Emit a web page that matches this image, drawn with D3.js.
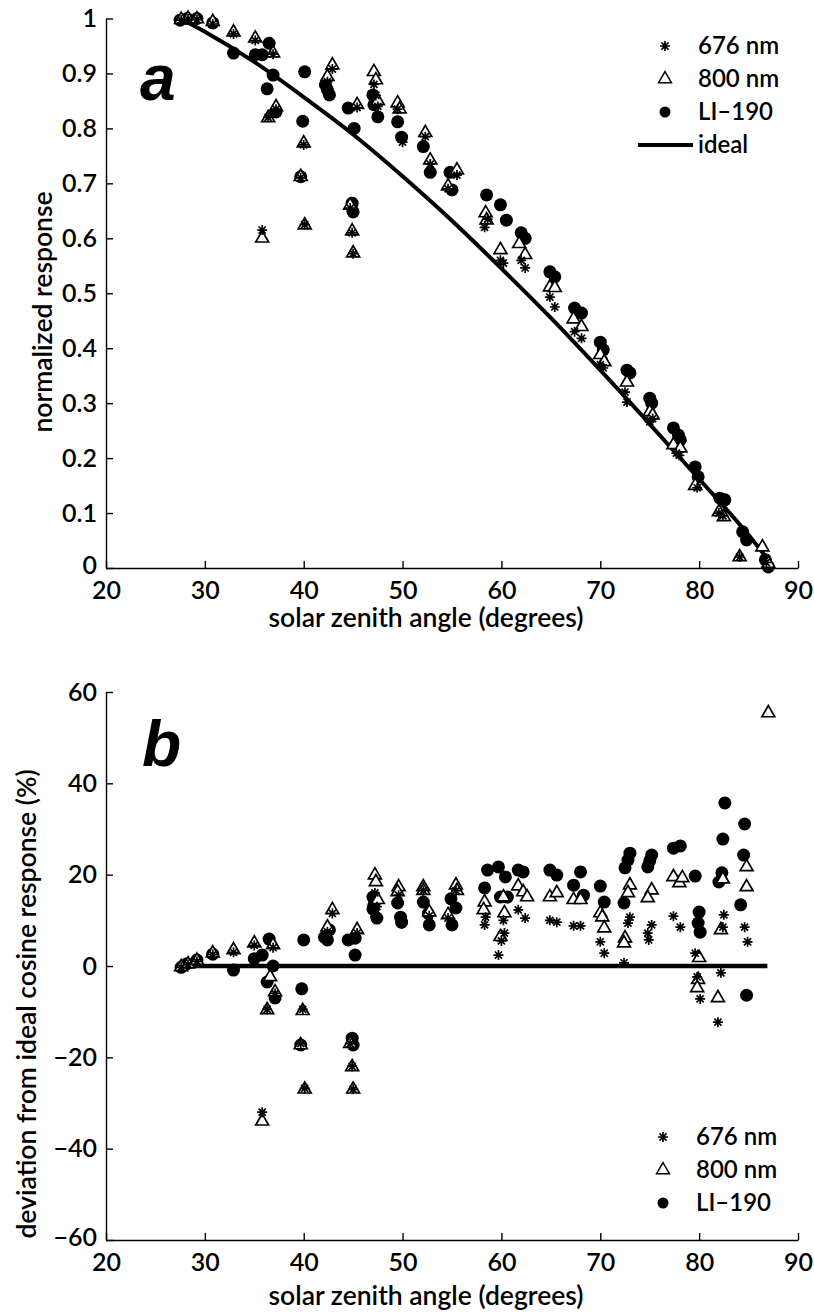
<!DOCTYPE html>
<html>
<head>
<meta charset="utf-8">
<script src="https://cdn.jsdelivr.net/npm/d3@7"></script>
<style>
  body { margin: 0; background: #fff; }
  text { font-family: Lato, "Open Sans", sans-serif; font-weight: 600; fill: #000; }
  text.panel { font-family: "Liberation Sans", Arial, sans-serif; font-weight: bold; font-style: italic; }
</style>
</head>
<body>
<svg id="chart" width="814" height="1312"></svg>
<script>
// ---- data ----
const xTicks = [20, 30, 40, 50, 60, 70, 80, 90];
const yTicksA = [0, 0.1, 0.2, 0.3, 0.4, 0.5, 0.6, 0.7, 0.8, 0.9, 1];
const yTicksB = [-60, -40, -20, 0, 20, 40, 60];
const seriesNames = ['676 nm', '800 nm', 'LI\u2013190'];

// ideal cosine response, panel a
const idealAngle = [27.5, 30, 35, 40, 45, 50, 55, 60, 65, 70, 75, 80, 85, 87.2];
const idealValue = [1.0, 0.976, 0.921, 0.857, 0.789, 0.713, 0.632, 0.545, 0.455, 0.36, 0.262, 0.162, 0.06, 0.01];

// zero reference, panel b
const zeroAngle = [27.5, 86.9];
const zeroDev = [0, 0];

// panel a: normalized response [angle, value]
const li190A = [[27.5,0.997],[28.2,1.0],[29.2,1.0],[30.8,0.992],[32.9,0.937],[35.1,0.934],[35.8,0.934],[36.5,0.955],
  [36.9,0.897],[36.3,0.872],[37.2,0.83],[39.9,0.813],[39.7,0.712],[40.1,0.903],[42.2,0.879],[42.6,0.861],[42.4,0.87],
  [44.5,0.837],[45.1,0.80],[44.9,0.664],[45.0,0.648],[47.0,0.861],[47.1,0.843],[47.5,0.821],[49.5,0.812],[49.9,0.784],
  [52.1,0.767],[52.8,0.72],[54.8,0.72],[55.0,0.688],[58.5,0.679],[59.9,0.661],[60.5,0.633],[62.0,0.61],[62.4,0.60],
  [64.9,0.539],[65.4,0.53],[67.4,0.473],[68.1,0.464],[70.0,0.411],[70.3,0.397],[72.7,0.36],[73.0,0.355],[75.0,0.309],
  [75.2,0.30],[77.4,0.255],[77.9,0.242],[78.1,0.233],[79.6,0.184],[79.9,0.166],[82.1,0.127],[82.6,0.124],[84.4,0.066],
  [84.8,0.051],[86.7,0.015],[87.0,0.002]];
const nm800A = [[27.6,0.998],[28.3,1.0],[29.2,0.999],[30.8,0.994],[32.9,0.975],[35.1,0.964],[36.9,0.937],[37.2,0.839],
  [36.4,0.819],[35.8,0.600],[40.0,0.773],[39.7,0.712],[40.1,0.624],[42.9,0.915],[42.4,0.894],[45.4,0.843],[44.7,0.66],
  [44.9,0.613],[45.0,0.573],[47.1,0.903],[47.3,0.888],[47.5,0.85],[49.5,0.846],[49.7,0.835],[52.3,0.792],[52.8,0.742],
  [55.5,0.724],[54.6,0.695],[58.4,0.646],[58.5,0.633],[59.9,0.579],[62.4,0.570],[61.8,0.59],[64.9,0.511],[65.4,0.51],
  [67.3,0.453],[68.1,0.439],[70.0,0.388],[70.4,0.375],[72.7,0.338],[75.0,0.284],[75.3,0.278],[77.4,0.224],[78.1,0.218],
  [79.6,0.15],[82.0,0.102],[82.5,0.093],[84.1,0.02],[86.4,0.038],[87.0,0.008]];
const nm676A = [[27.6,0.997],[28.3,0.999],[29.2,0.998],[30.8,0.99],[32.9,0.972],[35.1,0.96],[36.9,0.935],[36.4,0.82],
  [37.2,0.835],[35.8,0.615],[40.0,0.77],[39.7,0.71],[40.1,0.625],[42.9,0.908],[42.4,0.885],[45.4,0.838],[44.7,0.655],
  [44.9,0.61],[45.0,0.572],[47.1,0.88],[47.3,0.86],[47.5,0.84],[49.5,0.835],[50.0,0.775],[52.3,0.785],[52.8,0.735],
  [55.5,0.715],[54.6,0.69],[58.3,0.62],[58.6,0.635],[59.9,0.56],[60.2,0.555],[62.0,0.56],[62.4,0.546],[64.9,0.493],
  [65.4,0.475],[67.4,0.43],[68.1,0.418],[70.3,0.364],[70.0,0.37],[72.5,0.32],[72.7,0.302],[75.0,0.266],[75.3,0.272],
  [77.7,0.209],[78.0,0.205],[79.8,0.146],[82.0,0.1],[82.4,0.095],[84.1,0.02],[86.8,0.01]];

// panel b: deviation from ideal (%) [angle, dev]
const li190B = [[27.6,-0.3],[28.2,0.5],[29.2,1.3],[30.8,2.6],[32.9,-0.9],[35.0,1.6],[35.8,2.4],[36.5,5.9],[36.9,0.0],
  [36.3,-3.5],[37.1,-7.0],[39.8,-5.0],[39.7,-17.3],[40.0,5.7],[42.6,7.9],[42.4,5.7],[42.1,6.3],[44.5,5.7],[45.2,6.1],
  [45.2,2.4],[44.9,-15.8],[45.0,-17.3],[47.0,15.1],[47.1,13.4],[47.4,10.5],[47.0,12.5],[49.5,13.8],[49.8,10.7],[49.9,9.6],
  [52.1,14.0],[52.6,11.5],[52.7,9.0],[54.9,14.7],[55.4,12.7],[55.0,9.0],[58.6,21.0],[59.7,21.7],[60.4,19.5],[61.7,21.0],
  [62.2,20.6],[58.3,17.1],[59.9,15.1],[60.6,15.1],[64.9,21.0],[65.6,19.9],[68.0,20.6],[67.3,17.7],[68.3,15.5],[70.0,17.5],
  [70.4,14.0],[73.0,24.7],[72.8,23.2],[72.5,21.5],[72.4,13.8],[75.2,24.3],[74.8,21.7],[75.0,23.0],[77.4,25.8],[78.1,26.3],
  [79.6,19.7],[80.0,11.8],[79.9,9.4],[80.1,7.4],[82.6,35.7],[82.4,27.8],[82.3,20.4],[82.0,18.4],[84.6,31.1],[84.5,24.3],
  [84.2,13.4],[84.8,-6.4]];
const nm800B = [[27.6,-0.2],[28.3,0.4],[29.2,1.2],[30.8,2.8],[32.9,3.5],[35.0,5.0],[36.9,4.6],[36.6,-2.4],[37.1,-5.7],
  [36.3,-9.6],[35.8,-34],[39.9,-9.8],[39.7,-17.3],[40.1,-27],[42.9,12.3],[42.4,8.5],[45.4,7.9],[44.7,-17],[44.9,-22.1],
  [45.0,-27],[47.2,19.9],[47.3,18.4],[47.5,14.5],[49.6,17.3],[49.5,16.2],[52.1,17.3],[52.1,16.5],[52.7,11.8],[55.4,17.7],
  [54.6,11.2],[55.5,16.5],[58.3,14.0],[58.2,12.3],[59.9,6.4],[60.2,15.1],[60.3,11.6],[61.7,17.5],[62.2,16.2],[62.6,15.1],
  [64.9,15.1],[65.6,16.0],[67.3,14.5],[68.0,14.5],[70.0,11.6],[70.2,10.7],[70.4,8.3],[73.0,17.7],[72.8,16.0],[72.5,6.1],
  [72.4,5.0],[75.2,16.6],[74.8,14.9],[77.4,19.5],[78.0,18.2],[78.3,19.3],[80.0,1.8],[79.9,-3.0],[79.8,-4.8],[82.4,19.0],
  [82.2,7.9],[81.9,-7.0],[84.8,21.7],[84.8,17.3],[87.0,55.4]];
const nm676B = [[27.6,-0.3],[28.3,0.3],[29.2,1.0],[30.8,2.5],[32.9,3.0],[35.0,4.5],[36.9,4.0],[36.3,-9.5],[35.8,-32],
  [37.1,-6.0],[39.9,-9.5],[39.7,-17],[40.1,-26.8],[42.9,11.5],[42.4,7.5],[45.4,7.2],[44.7,-17],[44.9,-22],[45.0,-27],
  [47.2,16.0],[47.4,13.0],[47.1,11.5],[49.6,15.5],[49.9,9.2],[52.1,16.5],[52.7,11.0],[55.4,16.5],[54.6,10.5],[58.3,9.0],
  [58.4,10.7],[60.2,10.0],[60.3,7.2],[59.7,2.4],[61.7,12.3],[62.4,10.5],[60.0,5.5],[64.9,10.0],[65.6,9.6],[67.3,8.8],
  [68.0,8.8],[70.0,5.3],[70.4,2.8],[73.0,10.7],[72.8,9.4],[72.4,0.7],[75.2,9.0],[74.8,7.2],[74.9,5.7],[77.4,10.9],
  [78.1,8.5],[79.6,2.8],[79.8,-2.4],[80.1,-7.2],[82.5,11.2],[82.4,8.5],[82.2,-1.5],[81.9,-12.3],[84.6,8.5],[84.9,5.3]];

// ---- drawing ----
const svg = d3.select('#chart');
const TICK_FONT = 25;
const TITLE_FONT = 26.5;
const LEGEND_FONT = 24;

// marker shapes
const starPath = (r => {
  const k = r * Math.SQRT1_2;
  return `M${-r},0H${r}M0,${-r}V${r}M${-k},${-k}L${k},${k}M${-k},${k}L${k},${-k}`;
})(5);
const triPath = d3.symbol(d3.symbolTriangle, 72)();
const dotPath = d3.symbol(d3.symbolCircle, Math.PI * 6.5 * 6.5)();

function drawMarks(g, data, kind, x, y) {
  const sel = g.append('g').selectAll('path').data(data).join('path')
    .attr('transform', d => `translate(${x(d[0])},${y(d[1])})`);
  if (kind === 'dot') sel.attr('d', dotPath).attr('fill', '#000');
  if (kind === 'tri') sel.attr('d', triPath).attr('fill', '#fff').attr('stroke', '#000').attr('stroke-width', 1.7);
  if (kind === 'star') sel.attr('d', starPath).attr('fill', 'none').attr('stroke', '#000').attr('stroke-width', 1.7);
}

function drawAxes(g, x, y, yTicks, yFmt) {
  const xa = g.append('g')
    .attr('transform', `translate(0,${y.range()[0]})`)
    .call(d3.axisBottom(x).tickValues(xTicks).tickSize(-7).tickSizeOuter(0).tickPadding(13).tickFormat(d3.format('d')));
  const ya = g.append('g')
    .attr('transform', `translate(${x.range()[0]},0)`)
    .call(d3.axisLeft(y).tickValues(yTicks).tickSize(-7).tickSizeOuter(0).tickPadding(9).tickFormat(yFmt));
  [xa, ya].forEach(a => {
    a.attr('font-family', null).attr('font-size', null);
    a.selectAll('text').attr('font-size', TICK_FONT);
    a.selectAll('line, path').attr('stroke', '#000').attr('stroke-width', 1.4);
  });
  // bottom-most y label sits just above the x labels, as in the print
  ya.selectAll('.tick').filter(d => d === yTicks[0]).select('text').attr('dy', '0.2em');
}

function drawLegend(g, x0, y0, step, withIdeal) {
  const kinds = ['star', 'tri', 'dot'];
  kinds.forEach((k, i) => {
    const yy = y0 + i * step;
    const p = g.append('path').attr('transform', `translate(${x0},${yy})`);
    if (k === 'dot') p.attr('d', d3.symbol(d3.symbolCircle, Math.PI * 5.5 * 5.5)()).attr('fill', '#000');
    if (k === 'tri') p.attr('d', triPath).attr('fill', '#fff').attr('stroke', '#000').attr('stroke-width', 1.5);
    if (k === 'star') p.attr('d', starPath).attr('fill', 'none').attr('stroke', '#000').attr('stroke-width', 1.7);
    g.append('text').attr('x', x0 + 33).attr('y', yy).attr('dy', '0.35em')
      .attr('font-size', LEGEND_FONT).text(seriesNames[i]);
  });
  if (withIdeal) {
    const yy = y0 + 3 * step;
    g.append('line').attr('x1', x0 - 27).attr('x2', x0 + 28).attr('y1', yy).attr('y2', yy)
      .attr('stroke', '#000').attr('stroke-width', 4);
    g.append('text').attr('x', x0 + 33).attr('y', yy).attr('dy', '0.35em')
      .attr('font-size', LEGEND_FONT).text('ideal');
  }
}

// ---- panel a ----
const xA = d3.scaleLinear([20, 90], [106, 798]);
const yA = d3.scaleLinear([0, 1], [568, 18.5]);
const gA = svg.append('g');
drawAxes(gA, xA, yA, yTicksA, d => d3.format('~g')(d));

gA.append('path')
  .datum(d3.zip(idealAngle, idealValue))
  .attr('fill', 'none').attr('stroke', '#000').attr('stroke-width', 4)
  .attr('d', d3.line().x(d => xA(d[0])).y(d => yA(d[1])).curve(d3.curveMonotoneX));

drawMarks(gA, li190A, 'dot', xA, yA);
drawMarks(gA, nm800A, 'tri', xA, yA);
drawMarks(gA, nm676A, 'star', xA, yA);

gA.append('text').attr('class', 'panel').attr('x', 140).attr('y', 100)
  .attr('font-size', 64).text('a');
gA.append('text').attr('x', 426).attr('y', 627).attr('text-anchor', 'middle')
  .attr('font-size', TITLE_FONT).text('solar zenith angle (degrees)');
gA.append('text').attr('transform', 'translate(52,312) rotate(-90)').attr('text-anchor', 'middle')
  .attr('font-size', TITLE_FONT).text('normalized response');
drawLegend(gA, 665, 46, 33, true);

// ---- panel b ----
const xB = d3.scaleLinear([20, 90], [106, 798]);
const yB = d3.scaleLinear([-60, 60], [1240, 692]);
const gB = svg.append('g');
drawAxes(gB, xB, yB, yTicksB, d3.format('d'));

gB.append('path')
  .datum(d3.zip(zeroAngle, zeroDev))
  .attr('fill', 'none').attr('stroke', '#000').attr('stroke-width', 4.5)
  .attr('d', d3.line().x(d => xB(d[0])).y(d => yB(d[1])));

drawMarks(gB, li190B, 'dot', xB, yB);
drawMarks(gB, nm800B, 'tri', xB, yB);
drawMarks(gB, nm676B, 'star', xB, yB);

gB.append('text').attr('class', 'panel').attr('x', 142).attr('y', 766)
  .attr('font-size', 64).text('b');
gB.append('text').attr('x', 426).attr('y', 1305).attr('text-anchor', 'middle')
  .attr('font-size', TITLE_FONT).text('solar zenith angle (degrees)');
gB.append('text').attr('transform', 'translate(36,1004) rotate(-90)').attr('text-anchor', 'middle')
  .attr('font-size', TITLE_FONT).text('deviation from ideal cosine response (%)');
drawLegend(gB, 663, 1137, 33, false);
</script>
</body>
</html>
